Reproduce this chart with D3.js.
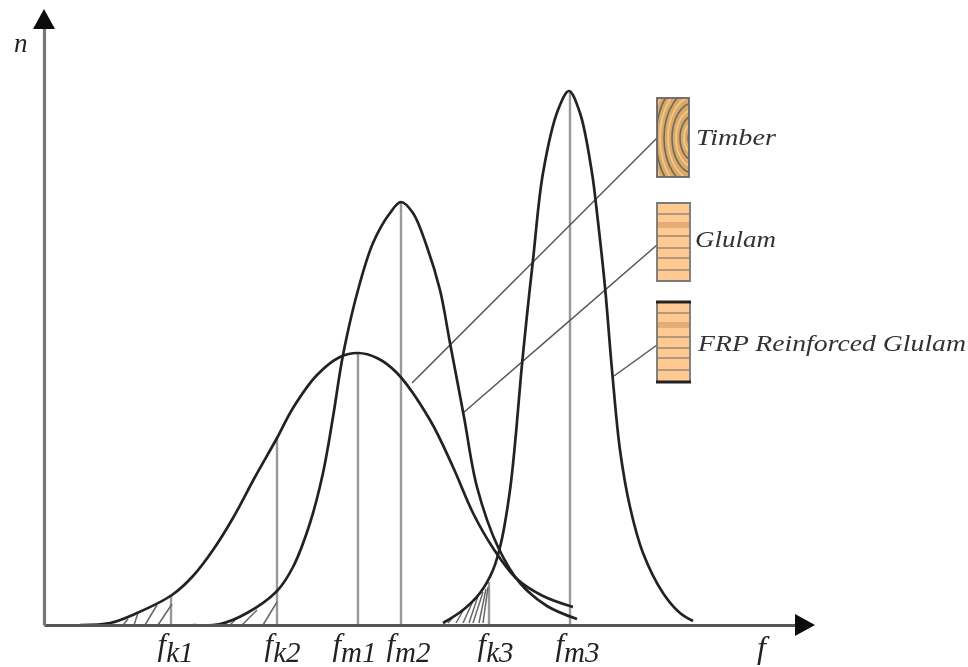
<!DOCTYPE html>
<html lang="en">
<head>
    <meta charset="utf-8">
    <title>Strength distributions</title>
    <script type="text/javascript" src="https://d3js.org/d3.v7.min.js"></script>
    <style>
        html, body { margin: 0; padding: 0; background: #fff; }
        text { font-family: "Liberation Serif", serif; font-style: italic; fill: #222; }
    </style>
</head>
<body>
    <script type="text/javascript">

        // Curves, [f, n] in chart units
        var timberCurve = [[3.6,0],[6.6,0.2],[9.3,1.2],[12.8,3.0],[14.9,4.9],[16.9,7.5],[18.9,10.7],[21.1,14.8],[23.3,18.7],[24.9,21.7],[27.3,25.0],[29.6,26.8],[31.4,27.2],[33.3,26.7],[35.3,25.2],[38.6,20.5],[40.9,15.8],[42.9,11.2],[44.9,7.7],[47.3,4.6],[49.9,2.9],[52.9,1.8]];
        var glulamCurve = [[14.9,0],[17.6,0.1],[20.3,1.2],[23.3,3.4],[24.9,5.8],[26.6,10.2],[27.9,15.2],[28.9,20.8],[29.9,27.0],[31.4,33.5],[32.9,38.2],[34.6,41.2],[35.7,42.3],[36.9,41.2],[38.3,37.8],[39.6,33.5],[40.6,28.2],[42.0,20.8],[43.3,13.8],[45.4,7.8],[47.6,4.2],[50.3,1.9],[53.3,0.6]];
        var frpCurve = [[39.9,0.2],[41.9,1.5],[43.6,3.2],[44.9,5.5],[45.7,8.2],[46.6,13.5],[47.2,19.2],[47.7,25.0],[48.3,31.0],[48.9,36.5],[49.9,45.2],[51.4,51.5],[52.5,53.4],[53.6,51.2],[54.8,45.2],[55.3,41.2],[56.1,33.8],[56.8,25.5],[57.6,17.5],[58.6,11.8],[59.9,7.2],[61.9,3.2],[63.6,1.2],[64.9,0.4]];

        // Characteristic and mean values: position, height of the drop line
        var tickNames = ["k1", "k2", "m1", "m2", "k3", "m3"];
        var tickValues = [12.7, 23.3, 31.4, 35.7, 44.5, 52.6];
        var tickHeights = [3.0, 18.7, 27.2, 42.3, 4.3, 53.4];

        // Hatching under the lower tails, [f0, n0, f1, n1]
        var hatchLines = [
            [7.9,0,8.4,0.6],[9.0,0,9.4,1.2],[10.1,0,11.3,2.0],[11.4,0,12.8,2.1],
            [18.6,0,19.3,0.7],[19.8,0,21.3,1.5],[21.9,0,23.3,2.3],
            [40.4,0.2,41.0,0.9],[41.2,0.2,42.0,1.6],[41.9,0.2,42.9,2.4],[42.5,0.2,43.4,2.9],[42.9,0.2,43.9,3.3],[43.5,0.2,44.2,3.6],[43.9,0.2,44.4,3.8]
        ];

        // Leader lines from the curves to the specimens
        var leaderLines = [[36.8,24.2,61.3,48.7],[41.9,21.2,61.3,38.0],[57.0,24.9,61.3,28.0]];

        var legendNames = ["Timber", "Glulam", "FRP Reinforced Glulam"];
        var ringRadii = [6, 10, 14, 18, 22, 26, 30, 34, 38, 42, 46];

        var width = 968, height = 667;

        var svg = d3.select("body").append("svg")
            .attr("width", width)
            .attr("height", height)
            .style("display", "block");

        var defs = svg.append("defs");
        defs.append("filter").attr("id", "soft")
            .append("feGaussianBlur").attr("stdDeviation", 0.6);
        defs.append("clipPath").attr("id", "woodClip")
            .append("rect").attr("x", 657).attr("y", 98).attr("width", 32).attr("height", 79);

        var chart = svg.append("g").attr("filter", "url(#soft)");

        var x = d3.scaleLinear().domain([0, 75.6]).range([44, 800]);
        var y = d3.scaleLinear().domain([0, 60]).range([625, 25]);

        var line = d3.line()
            .x(function(d) { return x(d[0]); })
            .y(function(d) { return y(d[1]); })
            .curve(d3.curveCatmullRom.alpha(0.5));

        // Drop lines
        chart.selectAll(".drop")
            .data(tickValues)
            .enter()
            .append("line")
            .attr("x1", function(d) { return x(d); })
            .attr("x2", function(d) { return x(d); })
            .attr("y1", y(0))
            .attr("y2", function(d, i) { return y(tickHeights[i]); })
            .attr("stroke", "#999")
            .attr("stroke-width", 2.4);

        // Hatching
        chart.selectAll(".hatch")
            .data(hatchLines)
            .enter()
            .append("line")
            .attr("x1", function(d) { return x(d[0]); })
            .attr("y1", function(d) { return y(d[1]); })
            .attr("x2", function(d) { return x(d[2]); })
            .attr("y2", function(d) { return y(d[3]); })
            .attr("stroke", "#666")
            .attr("stroke-width", 1.5);

        // Leaders
        chart.selectAll(".leader")
            .data(leaderLines)
            .enter()
            .append("line")
            .attr("x1", function(d) { return x(d[0]); })
            .attr("y1", function(d) { return y(d[1]); })
            .attr("x2", function(d) { return x(d[2]); })
            .attr("y2", function(d) { return y(d[3]); })
            .attr("stroke", "#555")
            .attr("stroke-width", 1.5);

        // Curves
        chart.selectAll(".curve")
            .data([timberCurve, glulamCurve, frpCurve])
            .enter()
            .append("path")
            .attr("d", line)
            .attr("fill", "none")
            .attr("stroke", "#222")
            .attr("stroke-width", 2.7);

        // Axes
        var xAxis = chart.append("g")
            .attr("transform", "translate(0," + y(0) + ")")
            .call(d3.axisBottom(x).tickValues(tickValues).tickSize(0).tickPadding(16).tickFormat(function() { return "f"; }));
        var yAxis = chart.append("g")
            .attr("transform", "translate(" + x(0) + ",0)")
            .call(d3.axisLeft(y).tickValues([]).tickSize(0));

        xAxis.select(".domain").attr("stroke", "#555").attr("stroke-width", 2.8);
        yAxis.select(".domain").attr("stroke", "#777").attr("stroke-width", 3.2);

        var tickLabelDx = [4, 5, -4, 7, 6, 7];
        xAxis.selectAll(".tick text")
            .attr("dx", function(d, i) { return tickLabelDx[i]; })
            .attr("y", 30)
            .attr("dy", 0)
            .style("font-size", "31px")
            .text("f")
            .append("tspan")
            .attr("dy", 7)
            .style("font-size", "29px")
            .text(function(d, i) { return tickNames[i]; });

        // Arrow heads
        chart.append("path")
            .attr("d", "M" + x(0) + ",9L" + (x(0) + 11) + ",29L" + (x(0) - 11) + ",29Z")
            .attr("fill", "#111");
        chart.append("path")
            .attr("d", "M815," + y(0) + "L795," + (y(0) - 11) + "L795," + (y(0) + 11) + "Z")
            .attr("fill", "#111");

        chart.append("text").attr("x", 14).attr("y", 52).style("font-size", "27px").text("n");
        chart.append("text").attr("x", 757).attr("y", 658).style("font-size", "32px").text("f");

        // Timber specimen
        var wood = chart.append("g");
        wood.append("rect")
            .attr("x", 657).attr("y", 98).attr("width", 32).attr("height", 79)
            .attr("fill", "#dba966");
        var rings = wood.append("g").attr("clip-path", "url(#woodClip)");
        rings.selectAll("ellipse")
            .data(ringRadii)
            .enter()
            .append("ellipse")
            .attr("cx", 694)
            .attr("cy", 138)
            .attr("rx", function(d) { return d; })
            .attr("ry", function(d) { return d * 1.6; })
            .attr("fill", "none")
            .attr("stroke", function(d, i) { return i % 2 ? "#f3c98d" : "#6c6a5e"; })
            .attr("stroke-width", 1.6);
        wood.append("rect")
            .attr("x", 657).attr("y", 98).attr("width", 32).attr("height", 79)
            .attr("fill", "none").attr("stroke", "#666").attr("stroke-width", 1.8);

        // Glulam specimens: outer box, dark lamella band, lamella joints
        var boards = [
            { y0: 203, y1: 281, edge: "#777", edgeTop: 1.6, joints: [214, 236, 248, 258, 270], band: 225 },
            { y0: 302, y1: 382, edge: "#222", edgeTop: 3, joints: [313, 337, 348, 358, 370], band: 325 }
        ];
        boards.forEach(function(b) {
            var g = chart.append("g");
            g.append("rect").attr("x", 657).attr("y", b.y0).attr("width", 33).attr("height", b.y1 - b.y0)
                .attr("fill", "#ffca92");
            g.append("rect").attr("x", 657).attr("y", b.band - 3).attr("width", 33).attr("height", 6)
                .attr("fill", "#e2ad78");
            b.joints.forEach(function(j) {
                g.append("line").attr("x1", 657).attr("x2", 690).attr("y1", j).attr("y2", j)
                    .attr("stroke", "#666").attr("stroke-width", 1.1);
            });
            g.append("rect").attr("x", 657).attr("y", b.y0).attr("width", 33).attr("height", b.y1 - b.y0)
                .attr("fill", "none").attr("stroke", "#777").attr("stroke-width", 1.8);
            g.append("line").attr("x1", 656).attr("x2", 691).attr("y1", b.y0).attr("y2", b.y0)
                .attr("stroke", b.edge).attr("stroke-width", b.edgeTop);
            g.append("line").attr("x1", 656).attr("x2", 691).attr("y1", b.y1).attr("y2", b.y1)
                .attr("stroke", b.edge).attr("stroke-width", b.edgeTop);
        });

        // Specimen labels
        var legendX = [696, 695, 698];
        var legendY = [145, 247, 351];
        var legendLength = [80, 81, 268];
        chart.selectAll(".legend")
            .data(legendNames)
            .enter()
            .append("text")
            .attr("x", function(d, i) { return legendX[i]; })
            .attr("y", function(d, i) { return legendY[i]; })
            .attr("textLength", function(d, i) { return legendLength[i]; })
            .attr("lengthAdjust", "spacingAndGlyphs")
            .style("font-size", "24px")
            .style("fill", "#333")
            .text(function(d) { return d; });

    </script>
</body>
</html>
